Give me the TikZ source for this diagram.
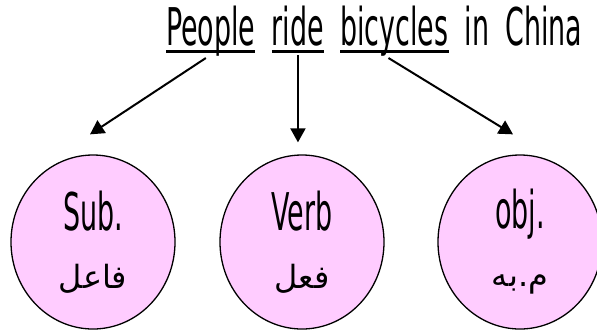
\documentclass[tikz,border=0pt]{standalone}
\usepackage{fontspec}
\setmainfont[FakeStretch=0.575]{DejaVu Sans Condensed}
\newfontfamily\arabicfont[Script=Arabic]{DejaVu Sans}
\TeXXeTstate=1
\usetikzlibrary{arrows.meta,positioning,shapes.geometric}
\definecolor{bubble}{RGB}{255,204,255}
\newcommand{\ulword}[1]{\setbox0\hbox{#1}\rlap{\rule[-8pt]{\wd0}{3.5pt}}\box0}
\tikzset{
	word/.style={inner sep=0pt, font=\fontsize{52}{56}\selectfont},
	bubblenode/.style={ellipse, draw, line width=1.3pt, fill=bubble, minimum width=164pt, minimum height=174pt, inner sep=0pt, align=center, font=\fontsize{52}{58}\selectfont},
	pointer/.style={line width=2pt, -{Triangle[length=14pt, width=15pt]}}
}

\begin{document}
\begin{tikzpicture}[x=1pt, y=-1pt]
	%%%%% START %%%%%
	
	\useasboundingbox (0, 0) rectangle (597, 333);
	
	\node[word, anchor=base west] (people) at (166, 45) {\ulword{People}};
	\node[word, base right=16pt of people] (ride) {\ulword{ride}};
	\node[word, base right=16pt of ride] (bicycles) {\ulword{bicycles}};
	\node[word, base right=16pt of bicycles] (inchina) {in\hspace{16pt}China};
	
	\node[bubblenode] (sub) at (93, 242) {Sub.\\{\arabicfont\fontsize{32}{38}\selectfont\beginR فاعل\endR}};
	\node[bubblenode] (verb) at (302, 242) {Verb\\{\arabicfont\fontsize{32}{38}\selectfont\beginR فعل\endR}};
	\node[bubblenode] (obj) at (520, 242) {obj.\\{\arabicfont\fontsize{32}{38}\selectfont\beginR م.به\endR}};
	
	\coordinate (subtip) at ([xshift=-3pt, yshift=20pt]sub.north);
	\coordinate (verbtip) at ([yshift=12pt]ride.south |- verb.north);
	\coordinate (objtip) at ([xshift=-7pt, yshift=20pt]obj.north);
	
	\draw[pointer] ([xshift=-5pt, yshift=-2pt]people.south) -- (subtip);
	\draw[pointer] ([yshift=-2pt]ride.south) -- (verbtip);
	\draw[pointer] ([xshift=-6pt, yshift=-2pt]bicycles.south) -- (objtip);
	
	%%%%% END %%%%%
\end{tikzpicture}
\end{document}
